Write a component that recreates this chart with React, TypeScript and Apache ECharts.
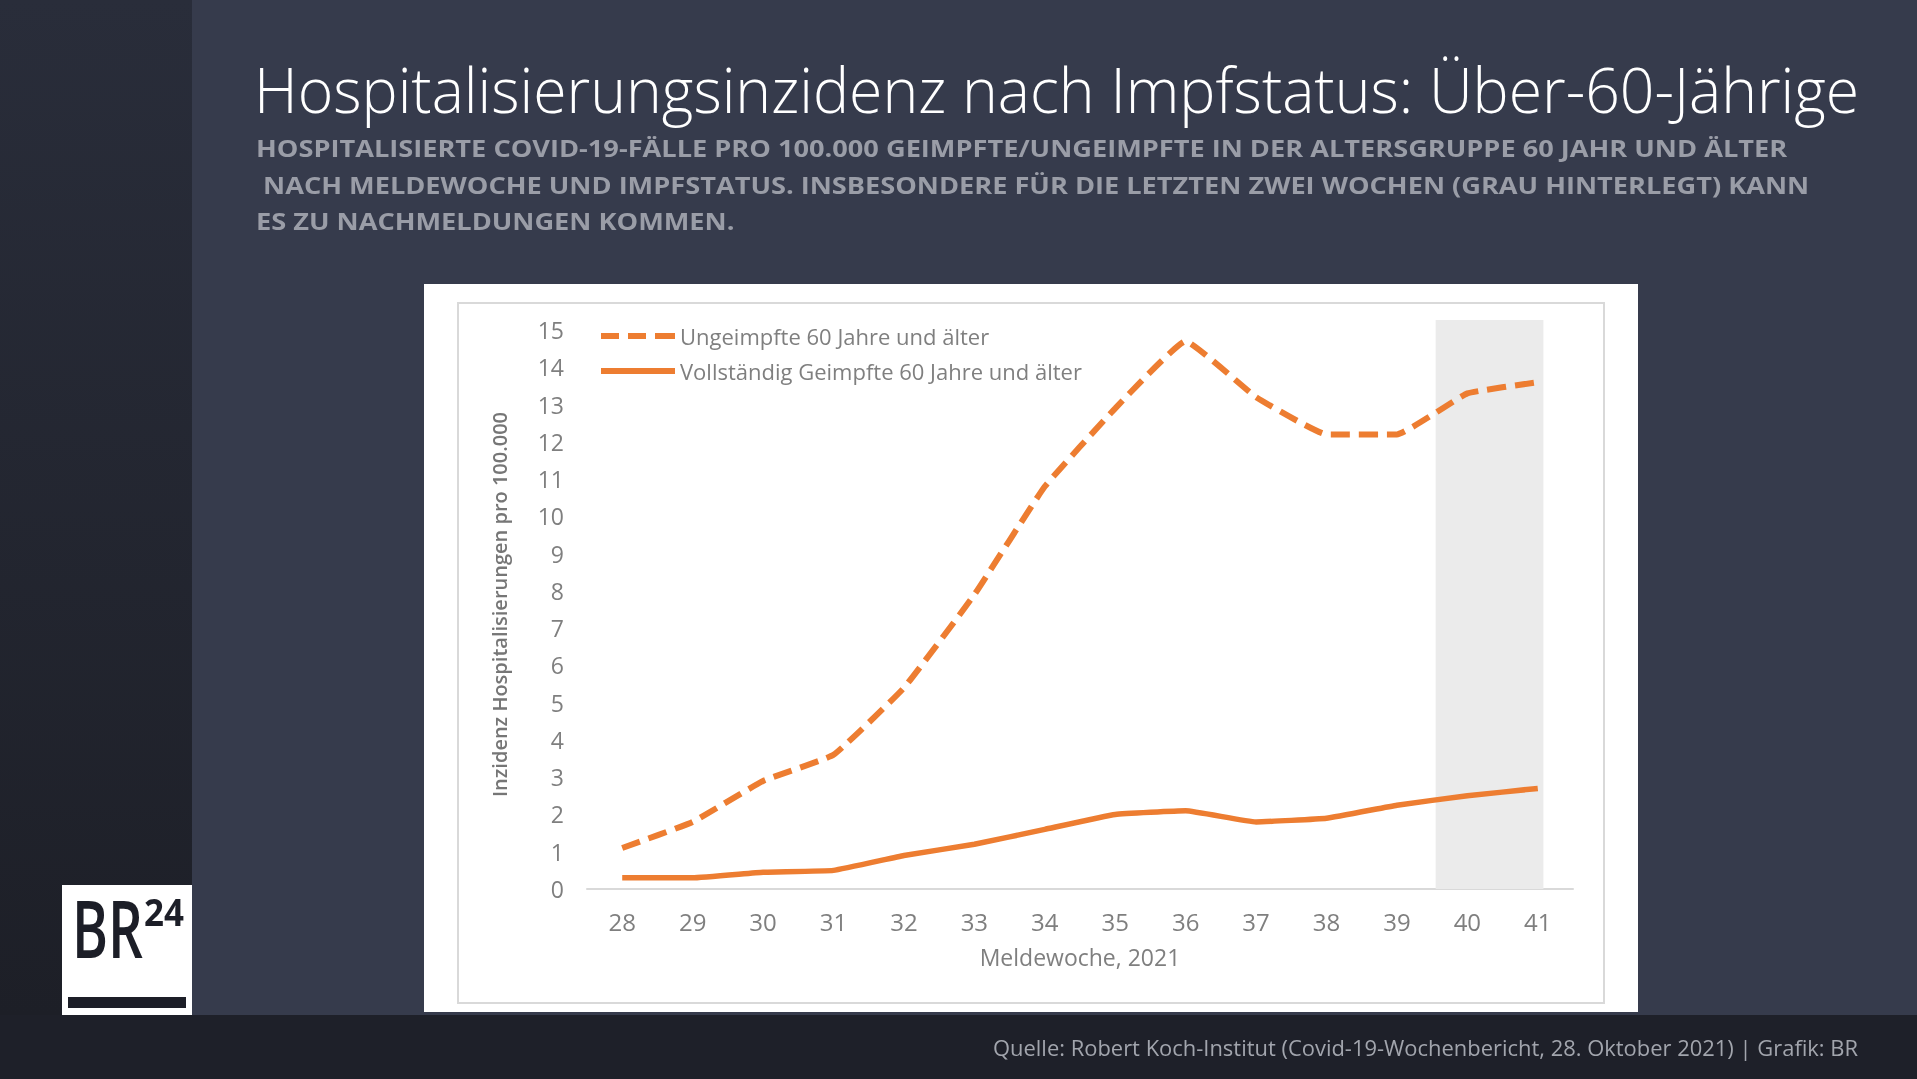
import React, { useEffect, useRef } from "react";
import * as echarts from "echarts";

// ---------- data ----------
const weeks = ["28", "29", "30", "31", "32", "33", "34", "35", "36", "37", "38", "39", "40", "41"];
const unvaccinated = [1.1, 1.8, 2.9, 3.6, 5.4, 7.9, 10.8, 12.9, 14.7, 13.2, 12.2, 12.2, 13.3, 13.6];
const vaccinated = [0.3, 0.3, 0.45, 0.5, 0.9, 1.2, 1.6, 2.0, 2.1, 1.8, 1.9, 2.25, 2.5, 2.7];
const seriesNames = ["Ungeimpfte 60 Jahre und älter", "Vollständig Geimpfte 60 Jahre und älter"];
const shadedWeeks = [39.55, 41.08];
const yMin = 0;
const yTop = 15.27;
const yInterval = 1;

const titleText = "Hospitalisierungsinzidenz nach Impfstatus: Über-60-Jährige";
const subtitleLines = [
  "HOSPITALISIERTE COVID-19-FÄLLE PRO 100.000 GEIMPFTE/UNGEIMPFTE IN DER ALTERSGRUPPE 60 JAHR UND ÄLTER",
  " NACH MELDEWOCHE UND IMPFSTATUS. INSBESONDERE FÜR DIE LETZTEN ZWEI WOCHEN (GRAU HINTERLEGT) KANN",
  "ES ZU NACHMELDUNGEN KOMMEN.",
];
const sourceMain = "Quelle: Robert Koch-Institut (Covid-19-Wochenbericht, 28. Oktober 2021)";
const sourceTail = " | Grafik: BR";
const yAxisName = "Inzidenz Hospitalisierungen pro 100.000";
const xAxisName = "Meldewoche, 2021";

const FONT = "'Open Sans', 'Noto Sans', sans-serif";
const ORANGE = "#ed7d31";
const DASH_ICON = "path://M0 0h18v6H0zM27 0h18v6H27zM54 0h20v6H54z";
const SOLID_ICON = "path://M0 0h74v6H0z";

function measure(text: string, font: string): number {
  const c = document.createElement("canvas").getContext("2d");
  if (!c) return 1;
  c.font = font;
  return c.measureText(text).width || 1;
}

export default function App() {
  const ref = useRef<HTMLDivElement>(null);

  useEffect(() => {
    document.body.style.margin = "0";
    if (!ref.current) return;
    const chart = echarts.init(ref.current, null, { renderer: "svg" });

    const titleFont = `300 62px 'Open Sans'`;
    const titleScale = 1605 / measure(titleText, titleFont);
    const subFont = `700 24px 'Open Sans'`;
    const subScale = 1533 / measure(subtitleLines[0], subFont);
    const srcFont = `400 21px 'Open Sans'`;
    const srcScale = 741 / measure(sourceMain, srcFont);
    const brFont = `600 80px 'Open Sans'`;
    const brScale = 71 / measure("BR", brFont);
    const n24Font = `700 38px 'Open Sans'`;
    const n24Scale = 40 / measure("24", n24Font);

    const subY = [148.5, 185.5, 221.5];

    const graphic: any[] = [
      { type: "rect", z: -30, silent: true, shape: { x: 0, y: 0, width: 1917, height: 1079 }, style: { fill: "#363b4c" } },
      {
        type: "rect", z: -29, silent: true, shape: { x: 0, y: 0, width: 192, height: 1015 },
        style: {
          fill: new echarts.graphic.LinearGradient(0, 0, 0, 1, [
            { offset: 0, color: "#292d3a" },
            { offset: 1, color: "#1d1f27" },
          ]),
        },
      },
      { type: "rect", z: -29, silent: true, shape: { x: 0, y: 1015, width: 1917, height: 64 }, style: { fill: "#1e2029" } },
      { type: "rect", z: -28, silent: true, shape: { x: 424, y: 284, width: 1214, height: 728 }, style: { fill: "#ffffff" } },
      { type: "rect", z: -27, silent: true, shape: { x: 458, y: 303, width: 1146, height: 700 }, style: { fill: "none", stroke: "#d9d9d9", lineWidth: 2 } },
      {
        type: "text", x: 254, y: 89, scaleX: titleScale, silent: true,
        style: { text: titleText, x: 0, y: 0, font: titleFont, fontFamily: "Open Sans", fontSize: 62, fontWeight: 300, fill: "#ffffff", align: "left", verticalAlign: "middle", textAlign: "left", textVerticalAlign: "middle" },
      },
      ...subtitleLines.map((line, i) => ({
        type: "text", x: 256, y: subY[i], scaleX: subScale, silent: true,
        style: { text: line, x: 0, y: 0, font: subFont, fontFamily: "Open Sans", fontSize: 24, fontWeight: 700, fill: "#9a9da7", align: "left", verticalAlign: "middle", textAlign: "left", textVerticalAlign: "middle" },
      })),
      {
        type: "text", x: 993, y: 1048, scaleX: srcScale, silent: true,
        style: { text: sourceMain + sourceTail, x: 0, y: 0, font: srcFont, fontFamily: "Open Sans", fontSize: 21, fontWeight: 400, fill: "#a2a5ad", align: "left", verticalAlign: "middle", textAlign: "left", textVerticalAlign: "middle" },
      },
      // logo
      { type: "rect", z: -26, silent: true, shape: { x: 62, y: 885, width: 130, height: 130 }, style: { fill: "#ffffff" } },
      {
        type: "text", x: 72, y: 927, scaleX: brScale, silent: true,
        style: { text: "BR", x: 0, y: 0, font: brFont, fontFamily: "Open Sans", fontSize: 80, fontWeight: 600, fill: "#1c1e27", align: "left", verticalAlign: "middle", textAlign: "left", textVerticalAlign: "middle" },
      },
      {
        type: "text", x: 144, y: 911, scaleX: n24Scale, silent: true,
        style: { text: "24", x: 0, y: 0, font: n24Font, fontFamily: "Open Sans", fontSize: 38, fontWeight: 700, fill: "#1c1e27", align: "left", verticalAlign: "middle", textAlign: "left", textVerticalAlign: "middle" },
      },
      { type: "rect", silent: true, shape: { x: 68, y: 997, width: 118, height: 11 }, style: { fill: "#1c1e27" } },
    ];

    const option: any = {
      animation: false,
      textStyle: { fontFamily: FONT },
      grid: { left: 587, right: 344, top: 320, bottom: 190, containLabel: false },
      legend: {
        orient: "vertical",
        left: 596,
        top: 320,
        itemWidth: 74,
        itemHeight: 6,
        itemGap: 13,
        data: [
          { name: seriesNames[0], icon: DASH_ICON },
          { name: seriesNames[1], icon: SOLID_ICON },
        ],
        itemStyle: { color: ORANGE, borderWidth: 0 },
        textStyle: { color: "#7f7f7f", fontSize: 22, fontFamily: FONT, padding: [0, 0, 0, 0] },
      },
      xAxis: [
        {
          type: "category",
          data: weeks,
          boundaryGap: true,
          axisLine: { lineStyle: { color: "#d9d9d9", width: 2 } },
          axisTick: { show: false },
          axisLabel: { color: "#7f7f7f", fontSize: 24, margin: 20, fontFamily: FONT },
          name: xAxisName,
          nameLocation: "middle",
          nameGap: 56,
          nameTextStyle: { color: "#7f7f7f", fontSize: 23, fontFamily: FONT },
        },
        { type: "value", min: 27.5, max: 41.5, show: false },
      ],
      yAxis: {
        type: "value",
        min: yMin,
        max: yTop,
        interval: yInterval,
        axisLine: { show: false },
        axisTick: { show: false },
        splitLine: { show: false },
        axisLabel: {
          color: "#7f7f7f",
          fontSize: 23,
          margin: 23,
          fontFamily: FONT,
          formatter: (v: number) => (Math.abs(v - Math.round(v)) < 1e-6 ? String(Math.round(v)) : ""),
        },
        name: yAxisName,
        nameLocation: "middle",
        nameGap: 78,
        nameTextStyle: { color: "#767676", fontSize: 20, fontWeight: 600, fontFamily: FONT },
      },
      series: [
        {
          type: "line",
          xAxisIndex: 1,
          yAxisIndex: 0,
          data: [],
          silent: true,
          z: 1,
          markArea: {
            silent: true,
            itemStyle: { color: "#ebebeb" },
            data: [[{ xAxis: shadedWeeks[0] }, { xAxis: shadedWeeks[1] }]],
          },
        },
        {
          name: seriesNames[0],
          type: "line",
          data: unvaccinated,
          smooth: 0.1,
          symbol: "none",
          z: 3,
          itemStyle: { color: ORANGE },
          lineStyle: { color: ORANGE, width: 6, type: [19, 9] },
        },
        {
          name: seriesNames[1],
          type: "line",
          data: vaccinated,
          smooth: 0.1,
          symbol: "none",
          z: 3,
          itemStyle: { color: ORANGE },
          lineStyle: { color: ORANGE, width: 5.5, type: "solid" },
        },
      ],
      graphic,
    };

    chart.setOption(option);
    return () => chart.dispose();
  }, []);

  return <div ref={ref} style={{ position: "fixed", left: 0, top: 0, width: 1917, height: 1079 }} />;
}
